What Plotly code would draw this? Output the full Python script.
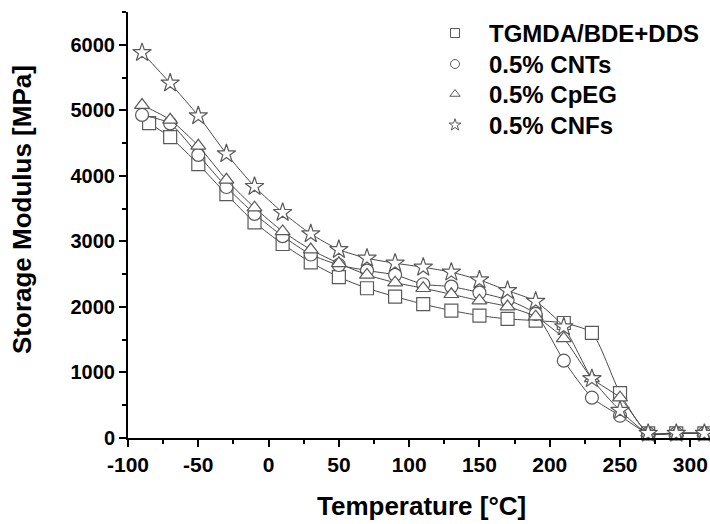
import plotly.graph_objects as go

# ---- data ----
temp_base = [-85, -70, -50, -30, -10, 10, 30, 50, 70, 90, 110, 130, 150, 170, 190, 210, 230, 250, 270, 290, 310]
mod_base = [4805, 4590, 4178, 3720, 3290, 2960, 2680, 2455, 2285, 2158, 2042, 1945, 1868, 1817, 1791, 1755, 1605, 685, 70, 70, 70]

temp = [-90, -70, -50, -30, -10, 10, 30, 50, 70, 90, 110, 130, 150, 170, 190, 210, 230, 250, 270, 290, 310]
mod_cnt = [4930, 4800, 4320, 3830, 3420, 3080, 2800, 2640, 2555, 2489, 2346, 2310, 2219, 2107, 1893, 1180, 615, 340, 70, 70, 70]
mod_cpeg = [5080, 4855, 4458, 3940, 3515, 3152, 2875, 2665, 2489, 2371, 2285, 2193, 2096, 2005, 1852, 1519, 911, 615, 80, 80, 80]
mod_cnf = [5880, 5415, 4916, 4336, 3837, 3440, 3115, 2875, 2743, 2667, 2606, 2530, 2412, 2249, 2085, 1695, 905, 420, 70, 70, 70]

names = ["TGMDA/BDE+DDS", "0.5% CNTs", "0.5% CpEG", "0.5% CNFs"]
x_tickvals = [-100, -50, 0, 50, 100, 150, 200, 250, 300]
x_ticktext = ["-100", "-50", "0", "50", "100", "150", "200", "250", "300"]

symbols = ["square", "circle", "triangle-up", "star"]
xs = [temp_base, temp, temp, temp]
ys = [mod_base, mod_cnt, mod_cpeg, mod_cnf]

FONT = "Liberation Sans"
W, H = 710, 524
ML, MR, MT, MB = 128, 0, 12, 86
PW, PH = W - ML - MR, H - MT - MB

fig = go.Figure()

for x, y, sym in zip(xs, ys, symbols):
    fig.add_trace(go.Scatter(
        x=x, y=y, mode="lines+markers", showlegend=False,
        line=dict(color="#4a4a4a", width=1, shape="spline", smoothing=0.6),
        marker=dict(symbol=sym, size=13 if sym != "star" else 14, color="white",
                    line=dict(color="#5a5a5a", width=1.2)),
        cliponaxis=False, hoverinfo="skip",
    ))

# hand-built legend on an overlay axis measured in pixels of the plot area
# (y2 value v sits at pixel MT + PH - v from the top)
leg_marker_x = 455 - ML
leg_text_x = 487 - ML
leg_rows = [33, 64, 94, 125]
fig.add_trace(go.Scatter(
    x=[leg_marker_x] * len(names), y=[MT + PH - r for r in leg_rows],
    mode="markers", showlegend=False, hoverinfo="skip",
    xaxis="x2", yaxis="y2", cliponaxis=False,
    marker=dict(symbol=symbols, size=9, color="white", line=dict(color="#5a5a5a", width=1)),
))
for n, r in zip(names, leg_rows):
    fig.add_annotation(
        x=leg_text_x, y=MT + PH - r, xref="x2", yref="y2",
        text=n, showarrow=False, xanchor="left", yanchor="middle",
        font=dict(family=FONT, size=24, color="black", weight="bold"),
    )

axis_common = dict(
    showline=True, linecolor="black", linewidth=2,
    ticks="outside", tickwidth=2, ticklen=7, tickcolor="black",
    showgrid=False, zeroline=False, mirror=False,
)

fig.update_layout(
    xaxis=dict(
        range=[-100, 314], tickmode="array", tickvals=x_tickvals, ticktext=x_ticktext,
        tickfont=dict(family=FONT, size=21, color="black", weight="bold"),
        minor=dict(dtick=25, tick0=0, ticks="outside", ticklen=4, tickwidth=2, tickcolor="black"),
        **axis_common,
    ),
    yaxis=dict(
        range=[0, 6500], dtick=1000, tick0=0,
        tickfont=dict(family=FONT, size=20, color="black", weight="bold"),
        minor=dict(dtick=500, ticks="outside", ticklen=4, tickwidth=2, tickcolor="black"),
        **axis_common,
    ),
    xaxis2=dict(overlaying="x", range=[0, PW], visible=False, fixedrange=True),
    yaxis2=dict(overlaying="y", range=[0, PH], visible=False, fixedrange=True),
)

# axis titles as annotations (paper coordinates)
fig.add_annotation(
    x=(421 - ML) / PW, y=(MT + PH - 506) / PH, xref="paper", yref="paper",
    text="Temperature [°C]", showarrow=False, xanchor="center", yanchor="middle",
    font=dict(family=FONT, size=26, color="black", weight="bold"),
)
fig.add_annotation(
    x=(22 - ML) / PW, y=(MT + PH - 210) / PH, xref="paper", yref="paper",
    text="Storage Modulus [MPa]", showarrow=False, textangle=-90,
    xanchor="center", yanchor="middle",
    font=dict(family=FONT, size=26, color="black", weight="bold"),
)

fig.update_layout(
    width=W, height=H,
    margin=dict(l=ML, r=MR, t=MT, b=MB),
    paper_bgcolor="white", plot_bgcolor="white",
    showlegend=False,
)

fig.write_html("out.html", config={"displayModeBar": False},
               post_script="document.body.style.margin='0';document.body.style.padding='0';")
